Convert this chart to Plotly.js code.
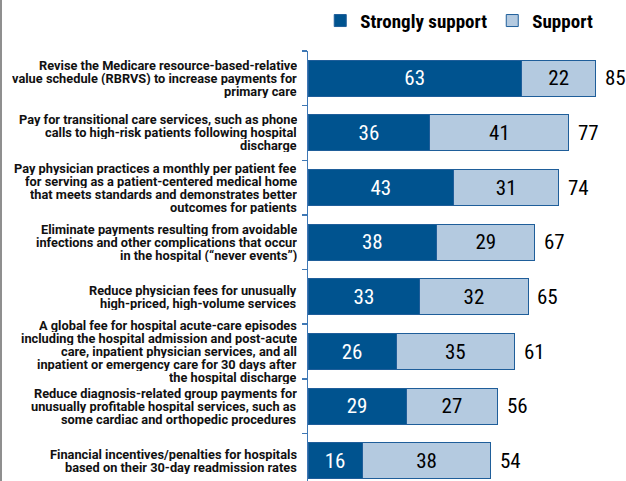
<!DOCTYPE html>
<html>
<head>
<meta charset="utf-8">
<script src="https://cdn.plot.ly/plotly-3.0.1.min.js"></script>
<style>
  body { margin: 0; background: #fff; }
  #chart { width: 624px; height: 481px; border-left: 2px solid #8f8f8f; }
</style>
</head>
<body>
<div id="chart"></div>
<script>
// policy options, one array of lines per label
const labelLines = [
    ['Revise the Medicare resource-based-relative', 'value schedule (RBRVS) to increase payments for', 'primary care'],
    ['Pay for transitional care services, such as phone', 'calls to high-risk patients following hospital', 'discharge'],
    ['Pay physician practices a monthly per patient fee', 'for serving as a patient-centered medical home', 'that meets standards and demonstrates better', 'outcomes for patients'],
    ['Eliminate payments resulting from avoidable', 'infections and other complications that occur', 'in the hospital (\u201cnever events\u201d)'],
    ['Reduce physician fees for unusually', 'high-priced, high-volume services'],
    ['A global fee for hospital acute-care episodes', 'including the hospital admission and post-acute', 'care, inpatient physician services, and all', 'inpatient or emergency care for 30 days after', 'the hospital discharge'],
    ['Reduce diagnosis-related group payments for', 'unusually profitable hospital services, such as', 'some cardiac and orthopedic procedures'],
    ['Financial incentives/penalties for hospitals', 'based on their 30-day readmission rates']
];
const stronglySupport = [63, 36, 43, 38, 33, 26, 29, 16];
const support = [22, 41, 31, 29, 32, 35, 27, 38];
const totals = [85, 77, 74, 67, 65, 61, 56, 54];

const categories = labelLines.map(l => l.join(' '));

const cond = 'Roboto Condensed, Roboto, sans-serif';
const barLine = { color: '#1f5e9a', width: 1 };

const traces = [
    {
        type: 'bar', orientation: 'h', name: 'Strongly support',
        x: stronglySupport, y: categories,
        marker: { color: '#00538f', line: barLine },
        text: stronglySupport.map(String), textposition: 'inside',
        insidetextanchor: 'middle', constraintext: 'none',
        textfont: { color: '#ffffff', size: 21, family: cond },
        hoverinfo: 'skip'
    },
    {
        type: 'bar', orientation: 'h', name: 'Support',
        x: support, y: categories,
        marker: { color: '#b4cae0', line: barLine },
        text: support.map(String), textposition: 'inside',
        insidetextanchor: 'middle', constraintext: 'none',
        textfont: { color: '#000000', size: 21, family: cond },
        hoverinfo: 'skip'
    }
];

const annotations = [];
// totals to the right of each bar
totals.forEach((t, i) => {
    annotations.push({
        x: t, y: categories[i], xref: 'x', yref: 'y',
        text: String(t), showarrow: false, xanchor: 'left', xshift: 7,
        font: { size: 21, color: '#000', family: cond }
    });
});
// category labels, one annotation per line for tight leading
const lineStep = 13;
labelLines.forEach((lines, i) => {
    lines.forEach((line, j) => {
        annotations.push({
            x: 0, y: categories[i], xref: 'paper', yref: 'y',
            text: line, showarrow: false, xanchor: 'right', yanchor: 'middle',
            height: lineStep, borderpad: 0, valign: 'middle',
            xshift: -10, yshift: ((lines.length - 1) / 2 - j) * lineStep,
            font: { size: 12.8, color: '#111', family: 'Roboto, sans-serif', weight: 'bold' }
        });
    });
});

const layout = {
    width: 624, height: 481,
    margin: { l: 306, r: 3, t: 51, b: 0 },
    barmode: 'stack', bargap: 0.34,
    paper_bgcolor: '#fff', plot_bgcolor: '#fff',
    showlegend: true,
    legend: {
        orientation: 'h', xref: 'container', yref: 'container',
        x: 0.51, y: 0.957, xanchor: 'left', yanchor: 'middle',
        font: { size: 19, color: '#000', family: cond, weight: 'bold' },
        traceorder: 'normal'
    },
    xaxis: {
        range: [0, 93], showgrid: false, zeroline: false,
        showticklabels: false, showline: false, ticks: ''
    },
    yaxis: {
        type: 'category', range: [7.37, -0.5],
        showgrid: false, zeroline: false, showticklabels: false,
        showline: true, linecolor: '#3f78b5', linewidth: 1.5,
        ticks: 'outside', tickson: 'boundaries', ticklen: 5,
        tickcolor: '#3f78b5', tickwidth: 1.5
    },
    annotations: annotations
};

Plotly.newPlot('chart', traces, layout, { displayModeBar: false, staticPlot: true });
</script>
</body>
</html>
